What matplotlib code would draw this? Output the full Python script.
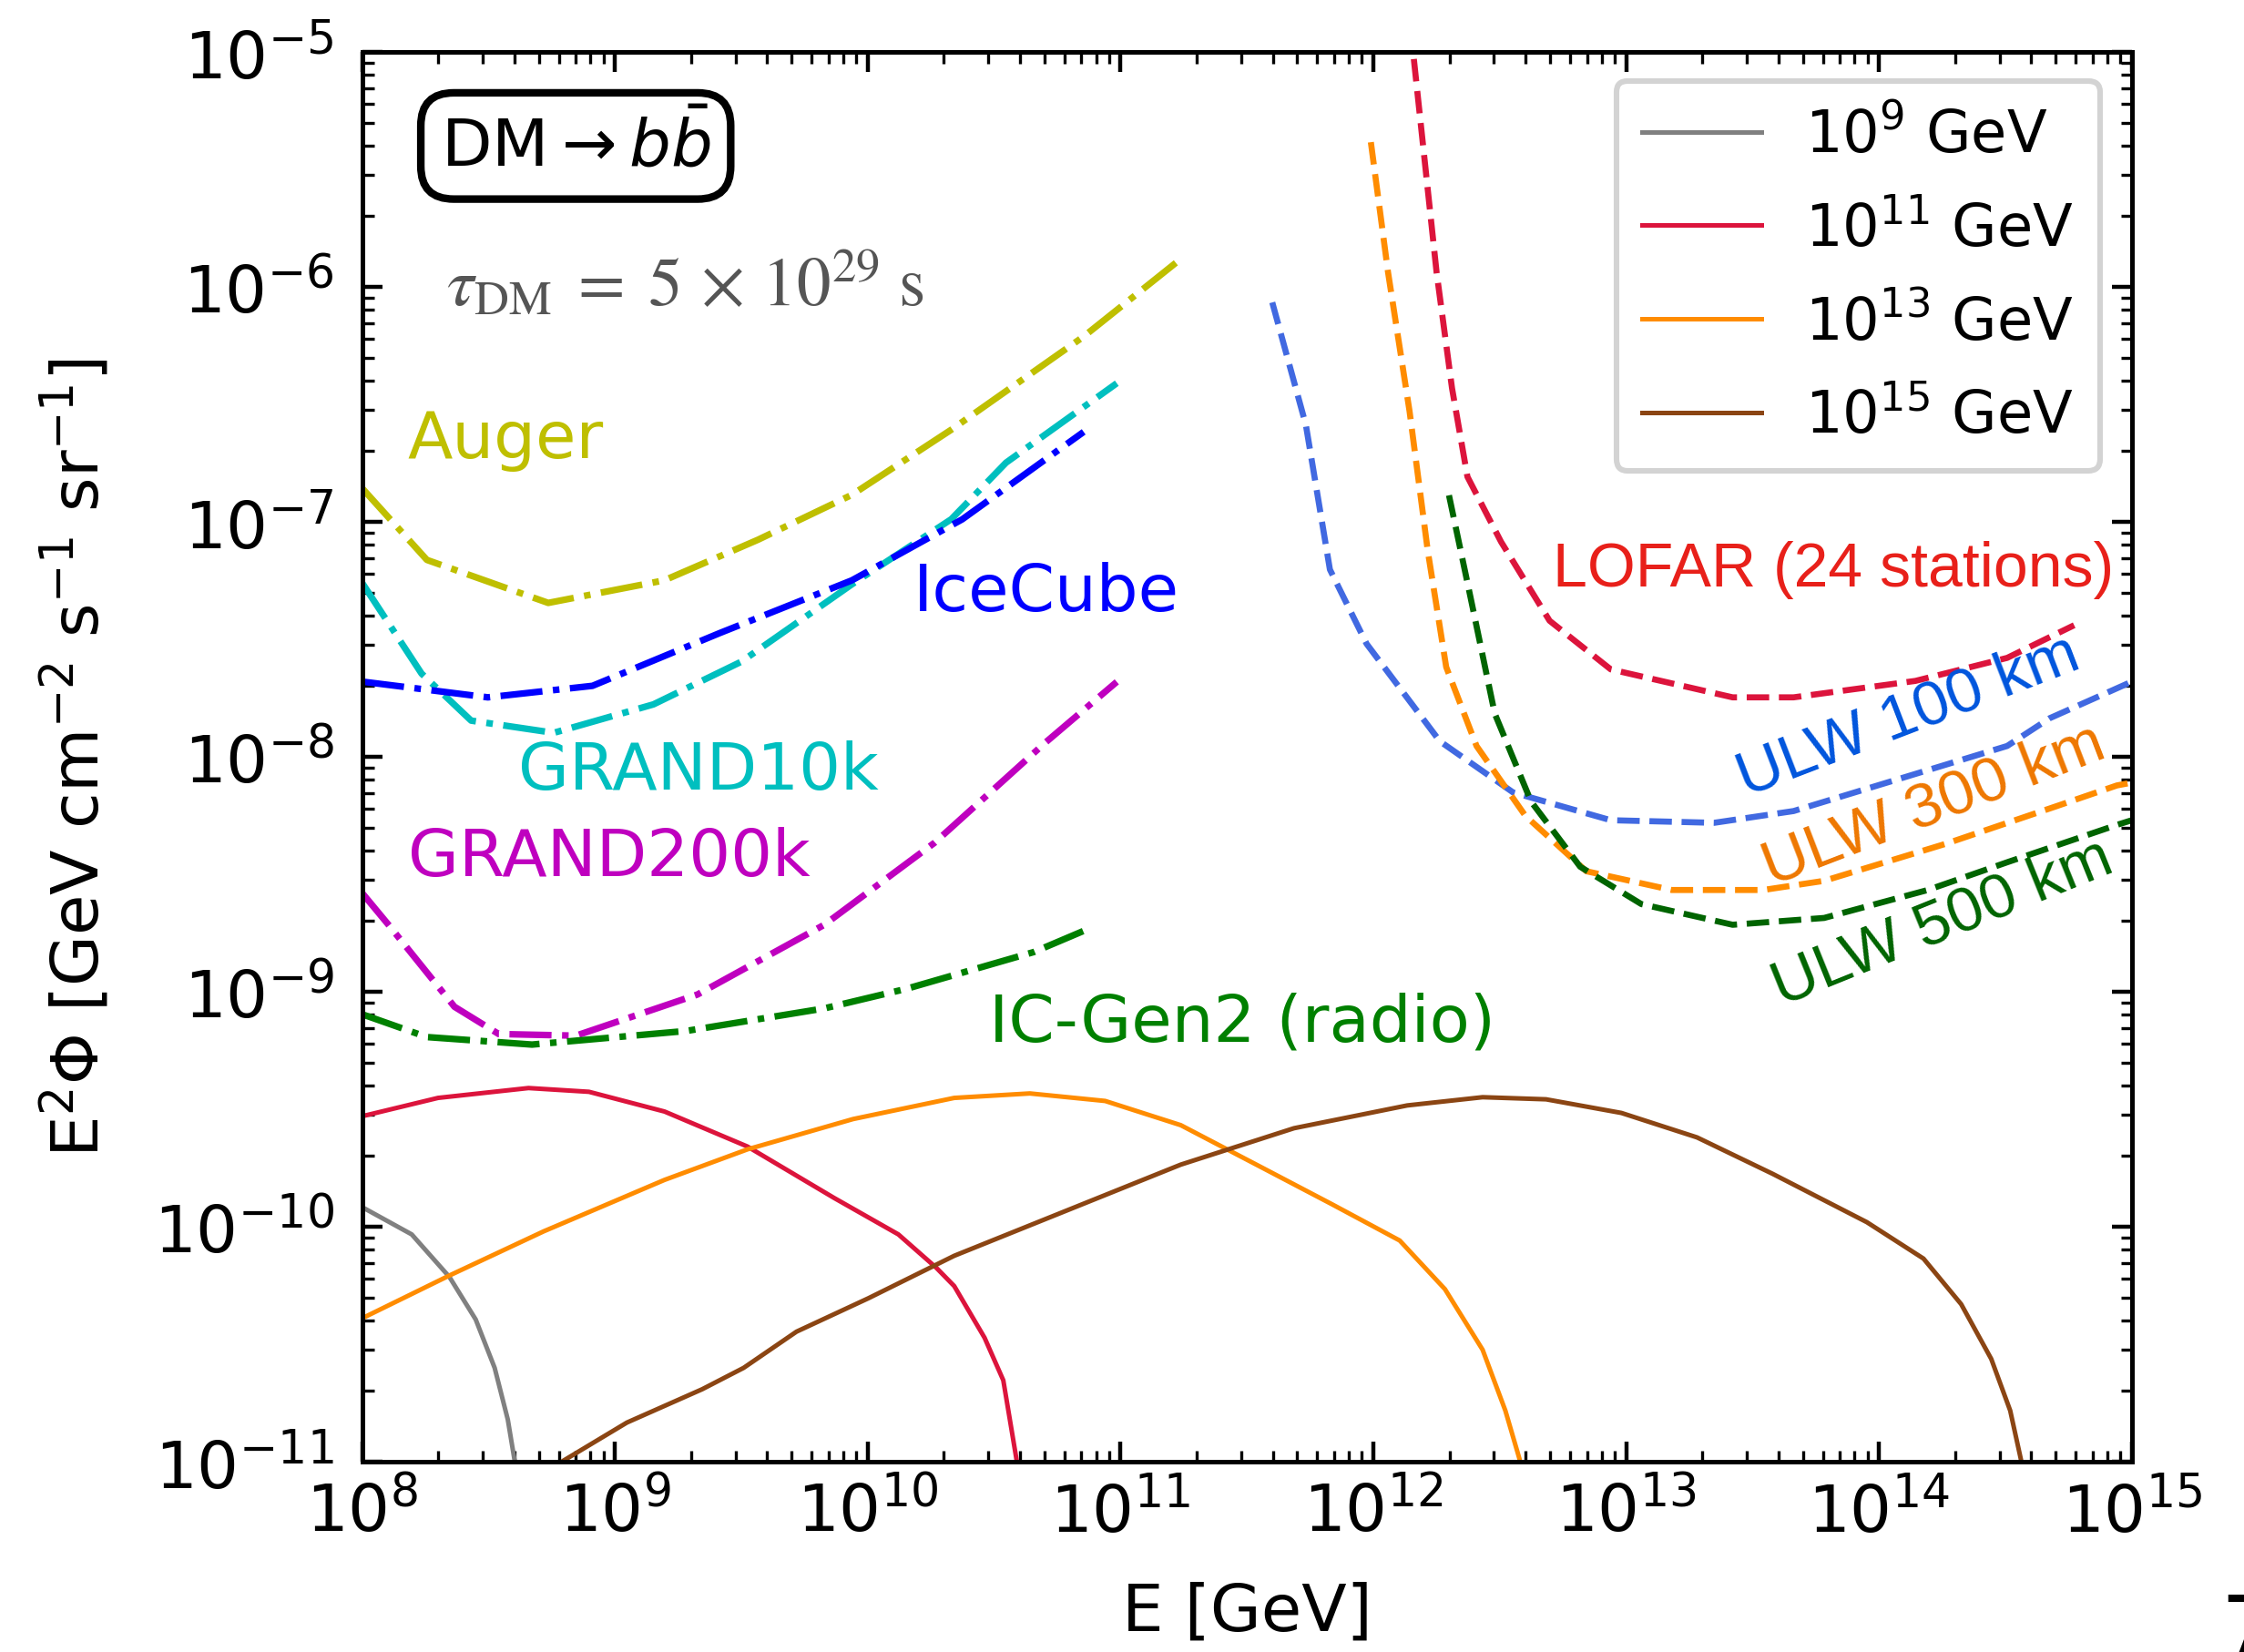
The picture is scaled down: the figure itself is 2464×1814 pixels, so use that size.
import numpy as np
import matplotlib
matplotlib.use("Agg")
import matplotlib.pyplot as plt
from matplotlib.ticker import LogLocator, NullFormatter

# ---------------- data (log10 E [GeV], log10 E^2 Phi) ----------------
auger_logE = [8.0, 8.256, 8.736, 9.195, 9.566, 9.937, 10.33, 10.854, 11.247]
auger_logF = [-6.857, -7.162, -7.345, -7.249, -7.076, -6.885, -6.608, -6.211, -5.873]

icecube_logE = [8.0, 8.497, 8.911, 9.413, 9.937, 10.374, 10.854]
icecube_logF = [-7.68, -7.747, -7.698, -7.474, -7.249, -6.989, -6.617]

grand10k_logE = [8.0, 8.235, 8.431, 8.758, 9.152, 9.5, 9.937, 10.33, 10.547, 10.985]
grand10k_logF = [-7.26, -7.646, -7.846, -7.898, -7.777, -7.595, -7.266, -6.989, -6.748, -6.41]

grand200k_logE = [8.0, 8.104, 8.365, 8.54, 8.846, 9.326, 9.828, 10.264, 10.702, 10.985]
grand200k_logF = [-8.58, -8.715, -9.064, -9.18, -9.187, -9.012, -8.715, -8.366, -7.94, -7.681]

icgen2_logE = [8.0, 8.256, 8.672, 9.282, 9.828, 10.155, 10.657, 10.854]
icgen2_logF = [-9.096, -9.193, -9.225, -9.167, -9.071, -8.987, -8.831, -8.741]

lofar_logE = [12.16, 12.25, 12.311, 12.372, 12.505, 12.697, 12.939, 13.421, 13.662, 14.144, 14.507, 14.772]
lofar_logF = [-5.03, -5.938, -6.431, -6.808, -7.085, -7.421, -7.628, -7.747, -7.747, -7.677, -7.579, -7.44]

ulw100_logE = [11.60, 11.733, 11.828, 11.973, 12.263, 12.553, 12.939, 13.348, 13.662, 14.144, 14.507, 14.675, 14.965, 15.0]
ulw100_logF = [-6.066, -6.588, -7.203, -7.519, -7.934, -8.152, -8.27, -8.281, -8.231, -8.073, -7.954, -7.836, -7.697, -7.68]

ulw300_logE = [11.99, 12.058, 12.143, 12.215, 12.288, 12.408, 12.601, 12.842, 13.18, 13.542, 13.783, 14.265, 14.7, 14.941, 15.0]
ulw300_logF = [-5.384, -5.938, -6.529, -7.123, -7.618, -7.954, -8.251, -8.487, -8.567, -8.567, -8.528, -8.37, -8.211, -8.122, -8.11]

ulw500_logE = [12.299, 12.384, 12.48, 12.624, 12.818, 13.06, 13.421, 13.783, 14.193, 14.507, 14.941, 15.0]
ulw500_logF = [-6.887, -7.32, -7.816, -8.191, -8.468, -8.627, -8.715, -8.686, -8.567, -8.449, -8.29, -8.27]

dm9_logE = [8.0, 8.196, 8.345, 8.449, 8.524, 8.576, 8.602, 8.605]
dm9_logF = [-9.917, -10.033, -10.214, -10.395, -10.601, -10.821, -10.989, -11.0]

dm11_logE = [8.0, 8.300, 8.658, 8.897, 9.196, 9.524, 9.867, 10.121, 10.271, 10.342, 10.462, 10.536, 10.588, 10.59]
dm11_logF = [-9.53, -9.452, -9.410, -9.426, -9.510, -9.659, -9.878, -10.033, -10.175, -10.253, -10.473, -10.654, -10.989, -11.0]

dm13_logE = [8.0, 8.345, 8.718, 9.196, 9.524, 9.942, 10.342, 10.641, 10.939, 11.238, 11.537, 11.835,
             12.104, 12.283, 12.432, 12.522, 12.578, 12.58]
dm13_logF = [-10.39, -10.208, -10.020, -9.801, -9.671, -9.542, -9.452, -9.433, -9.465, -9.568, -9.736, -9.904,
             -10.059, -10.266, -10.524, -10.783, -10.989, -11.0]

dm15_logE = [8.79, 9.047, 9.345, 9.509, 9.718, 10.002, 10.342, 10.790, 11.238, 11.686, 12.134, 12.432, 12.683,
             12.981, 13.280, 13.579, 13.952, 14.176, 14.325, 14.444, 14.519, 14.561, 14.563]
dm15_logF = [-11.0, -10.834, -10.692, -10.601, -10.447, -10.305, -10.124, -9.930, -9.736, -9.581, -9.484, -9.449, -9.458,
             -9.516, -9.620, -9.775, -9.981, -10.136, -10.330, -10.563, -10.783, -10.989, -11.0]

legend_labels = [r'$10^9$ GeV', r'$10^{11}$ GeV', r'$10^{13}$ GeV', r'$10^{15}$ GeV']


def p(le, lf):
    return 10 ** np.asarray(le), 10 ** np.asarray(lf)


fig = plt.figure(figsize=(12.32, 9.075), dpi=200)
ax = fig.add_axes([0.1614, 0.1152, 0.7886, 0.8528])

FS = 26

# experiments (dash-dot)
lw_dd = 2.6
ax.plot(*p(auger_logE, auger_logF), color='#bfbf00', ls='-.', lw=lw_dd)
ax.plot(*p(grand10k_logE, grand10k_logF), color='#00bfbf', ls='-.', lw=lw_dd)
ax.plot(*p(icecube_logE, icecube_logF), color='#0000ff', ls='-.', lw=lw_dd)
ax.plot(*p(grand200k_logE, grand200k_logF), color='#bf00bf', ls='-.', lw=lw_dd)
ax.plot(*p(icgen2_logE, icgen2_logF), color='#008000', ls='-.', lw=lw_dd)

# radio (dashed)
lw_d = 2.4
ax.plot(*p(lofar_logE, lofar_logF), color='crimson', ls='--', lw=lw_d)
ax.plot(*p(ulw100_logE, ulw100_logF), color='royalblue', ls='--', lw=lw_d)
ax.plot(*p(ulw300_logE, ulw300_logF), color='darkorange', ls='--', lw=lw_d)
ax.plot(*p(ulw500_logE, ulw500_logF), color='darkgreen', ls='--', lw=lw_d)

# DM spectra (solid)
lw_s = 1.8
h1, = ax.plot(*p(dm9_logE, dm9_logF), color='gray', lw=lw_s)
h2, = ax.plot(*p(dm11_logE, dm11_logF), color='crimson', lw=lw_s)
h3, = ax.plot(*p(dm13_logE, dm13_logF), color='darkorange', lw=lw_s)
h4, = ax.plot(*p(dm15_logE, dm15_logF), color='saddlebrown', lw=lw_s)

ax.set_xscale('log')
ax.set_yscale('log')
ax.set_xlim(1e8, 1e15)
ax.set_ylim(1e-11, 1e-5)

ax.xaxis.set_major_locator(LogLocator(base=10, numticks=30))
ax.xaxis.set_minor_locator(LogLocator(base=10, subs=np.arange(2, 10), numticks=200))
ax.xaxis.set_minor_formatter(NullFormatter())
ax.yaxis.set_major_locator(LogLocator(base=10, numticks=30))
ax.yaxis.set_minor_locator(LogLocator(base=10, subs=np.arange(2, 10), numticks=200))
ax.yaxis.set_minor_formatter(NullFormatter())

ax.tick_params(which='both', direction='in', top=True, right=True, labelsize=FS)
ax.tick_params(which='major', length=8, width=1.6)
ax.tick_params(which='minor', length=4.5, width=1.2)
ax.tick_params(axis='y', which='major', pad=11)
ax.tick_params(axis='x', which='major', pad=7)
for s in ax.spines.values():
    s.set_linewidth(1.8)

ax.set_xlabel('E [GeV]', fontsize=FS, labelpad=14)
ax.set_ylabel(r'E$^2\Phi$ [GeV cm$^{-2}$ s$^{-1}$ sr$^{-1}$]', fontsize=FS, labelpad=16)

# labels for experiments
ax.text(10**8.18, 10**-6.65, 'Auger', color='#bfbf00', fontsize=FS, va='center', ha='left')
ax.text(10**10.18, 10**-7.30, 'IceCube', color='#0000ff', fontsize=FS, va='center', ha='left')
ax.text(10**8.617, 10**-8.06, 'GRAND10k', color='#00bfbf', fontsize=FS, va='center', ha='left')
ax.text(10**8.18, 10**-8.43, 'GRAND200k', color='#bf00bf', fontsize=FS, va='center', ha='left')
ax.text(10**10.48, 10**-9.13, 'IC-Gen2 (radio)', color='#008000', fontsize=FS, va='center', ha='left')

arial = ['Liberation Sans', 'DejaVu Sans']
ax.text(10**12.71, 10**-7.20, 'LOFAR (24 stations)', color='#e8201a', fontsize=24.5, va='center', ha='left', family=arial)
ax.text(10**13.45, 10**-8.10, 'ULW 100 km', color='#0055dd', fontsize=25, va='center', ha='left',
        family=arial, rotation=21, rotation_mode='anchor')
ax.text(10**13.55, 10**-8.48, 'ULW 300 km', color='#ee7700', fontsize=25, va='center', ha='left',
        family=arial, rotation=21, rotation_mode='anchor')
ax.text(10**13.59, 10**-8.99, 'ULW 500 km', color='#006400', fontsize=25, va='center', ha='left',
        family=arial, rotation=22, rotation_mode='anchor')

# annotations
ax.text(10**8.31, 10**-5.40, r'DM$\rightarrow b\bar{b}$', fontsize=26, va='center', ha='left',
        math_fontfamily='dejavusans',
        bbox=dict(boxstyle='round,pad=0.3,rounding_size=0.5', fc='white', ec='black', lw=3.0))
ax.text(10**8.334, 10**-5.99, r'$\tau_{\rm DM}\;=\;5\,\times\,10^{29}\ {\rm s}$', fontsize=27, color='#555555',
        va='center', ha='left', math_fontfamily='stix')

leg = ax.legend([h1, h2, h3, h4], legend_labels, loc='upper right', fontsize=23,
                handlelength=2.05, handletextpad=0.75, labelspacing=0.62, borderpad=0.45,
                borderaxespad=0.0, bbox_to_anchor=(0.982, 0.9797), fancybox=True,
                framealpha=1.0, edgecolor='#d3d3d3')
leg.get_frame().set_linewidth(2.2)

fig.text(0.9895, 0.037, '7', fontsize=34, ha='left', va='top')

fig.savefig('out.png', dpi=200)
